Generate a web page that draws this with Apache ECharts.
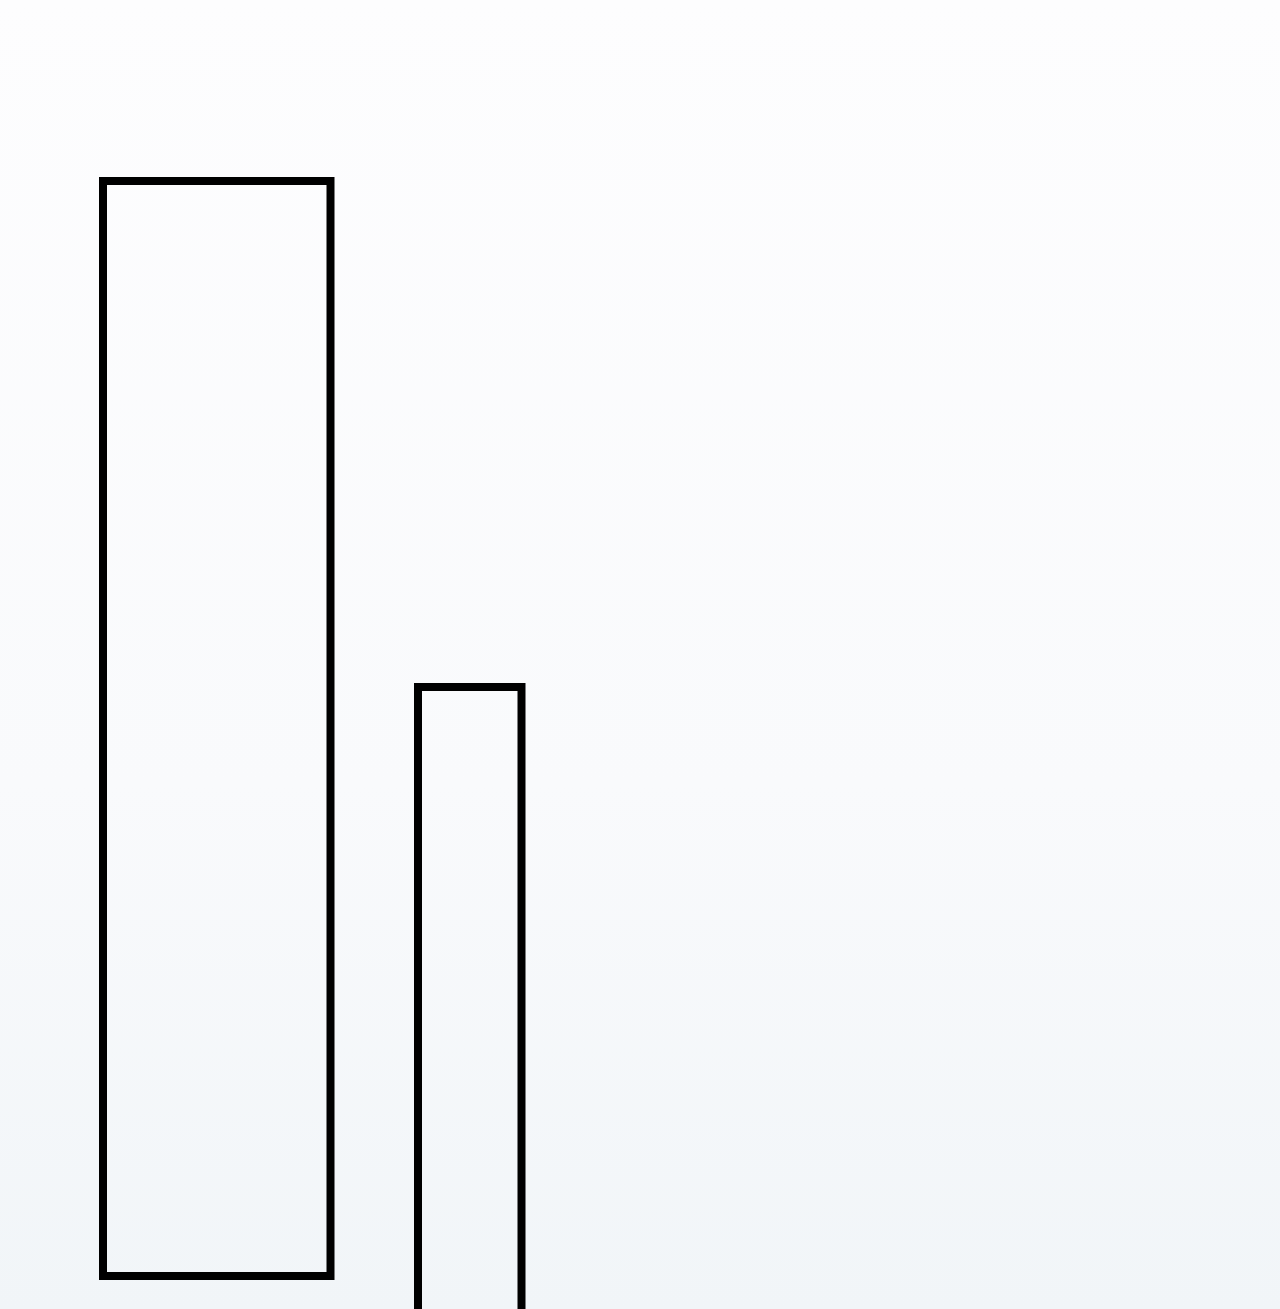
<!DOCTYPE html>
<html>
<head>
<meta charset="utf-8">
<script src="https://cdn.jsdelivr.net/npm/echarts@6/dist/echarts.min.js"></script>
<style>
  html, body { margin: 0; padding: 0; }
  #chart { width: 1280px; height: 1309px; }
</style>
</head>
<body>
<div id="chart"></div>
<script>
// two outlined columns, each as a [start, end] range on both axes
const names = ['A', 'B'];
const xStart = [10.3, 41.8];
const xEnd = [33.05, 52.15];
const yLow = [3.3, -2];
const yHigh = [112.8, 62.2];

var data = names.map((n, i) => [xStart[i], xEnd[i], yLow[i], yHigh[i], n]);

var mychart = echarts.init(document.getElementById('chart'));

mychart.setOption({
  backgroundColor: {
    type: 'linear', x: 0, y: 0, x2: 0, y2: 1,
    colorStops: [
      {offset: 0, color: '#fdfdfe'},
      {offset: 0.6, color: '#f9fafc'},
      {offset: 1, color: '#f1f5f8'}
    ]
  },
  animation: false,
  grid: {left: 0, right: 0, top: 0, bottom: 0},
  xAxis: {type: 'value', min: 0, max: 128, show: false},
  yAxis: {type: 'value', min: 0, max: 130.9, show: false},
  series: [{
    type: 'custom',
    clip: true,
    data: data,
    encode: {x: [0, 1], y: [2, 3]},
    renderItem: function (params, api) {
      let p1 = api.coord([api.value(0), api.value(3)]);
      let p2 = api.coord([api.value(1), api.value(2)]);
      return {
        type: 'rect',
        shape: {x: p1[0], y: p1[1], width: p2[0] - p1[0], height: p2[1] - p1[1]},
        style: {fill: 'none', stroke: '#000', lineWidth: 8, lineJoin: 'miter'}
      };
    }
  }]
});
</script>
</body>
</html>
